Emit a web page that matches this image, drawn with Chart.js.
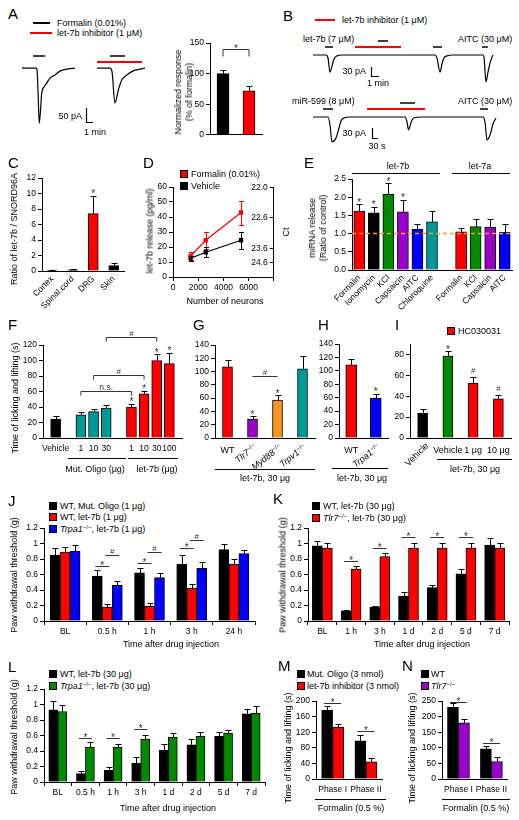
<!DOCTYPE html>
<html>
<head>
<meta charset="utf-8">
<title>let-7b figure</title>
<script src="https://cdn.jsdelivr.net/npm/chart.js@4.4.1/dist/chart.umd.min.js"></script>
<style>
  html, body { margin: 0; padding: 0; background: #fff; }
  #fig { position: relative; width: 519px; height: 820px; overflow: hidden; font-family: 'Liberation Sans', Arial, sans-serif; color: #000; }
  #fig canvas { position: absolute; }
  .tx { position: absolute; white-space: nowrap; font-size: 9px; line-height: 11px; }
  .lc { transform: translate(0, -50%); }
  .rc { transform: translate(-100%, -50%); }
  .cc { transform: translate(-50%, -50%); text-align: center; }
  .yt { transform: translate(-50%, -50%) rotate(-90deg); text-align: center; }
  .pl { position: absolute; font-size: 15px; line-height: 15px; }
  .sw { position: absolute; width: 8px; height: 8px; box-sizing: border-box; border: 1px solid #000; }
  .hl { position: absolute; height: 0; }
  .rot { position: absolute; width: 0; height: 0; }
  .rot span { position: absolute; right: 0; top: -5px; white-space: nowrap; font-size: 9px; line-height: 10px; transform-origin: 100% 50%; }
  sup { font-size: 6px; line-height: 0; vertical-align: 3px; }
</style>
</head>
<body>
<div id="fig"></div>
<script>
// ---------- data ----------

// A: formalin current traces (s, pA) and normalised response
const aTraceT1 = [0, 120, 129, 137, 148, 159, 169, 189, 212, 240, 283, 326, 383, 454];
const aTraceI1 = [0, 0, -7, -79, -198, -151, -90, -68, -54, -36, -25, -11, -4, 0];
const aTraceT2 = [0, 111, 129, 154, 183, 212, 255, 311, 369, 411];
const aTraceI2 = [0, 0, -14, -126, -79, -43, -25, -10, -4, 0];
const aGroups = ['Formalin', 'let-7b inhibitor'];
const aResponse = [100, 72];
const aResponseErr = [6, 7];

// B: let-7b / miR-599 and AITC currents (s, pA)
const bTraceT1 = [0, 97.5, 112.5, 127.5, 142.5, 157.5, 180, 225, 915, 930, 952.5, 967.5, 982.5, 1005, 1050, 1275, 1282.5, 1297.5, 1312.5, 1327.5, 1342.5, 1350];
const bTraceI1 = [0, 0, -10, -57, -37, -13, -3, 0, 0, -10, -57, -30, -10, -3, 0, 0, -7, -90, -57, -27, -7, 0];
const bTraceT2 = [0, 75, 85, 95, 115, 130, 140, 155, 185, 460, 470, 477.5, 485, 495, 510, 535, 850, 860, 870, 885, 900, 915];
const bTraceI2 = [0, 0, -24, -75, -63, -33, -12, -3, 0, 0, -15, -39, -27, -9, -1.5, 0, 0, -15, -69, -54, -21, -3];

// C: tissue distribution
const cTissues = ['Cortex', 'Spinal cord', 'DRG', 'Skin'];
const cRatio = [0.12, 0.15, 7.4, 0.7];
const cRatioErr = [0.05, 0.06, 2.3, 0.3];

// D: release vs number of neurons
const dNeurons = [1400, 2600, 5400];
const dFormalin = [14, 24.5, 43];
const dFormalinErr = [2.5, 5.5, 8];
const dVehicle = [12.5, 16.5, 24.5];
const dVehicleErr = [1.5, 3.3, 5.5];
const dCtPos = [60, 40, 19.5, 10];
const dCtLabels = ['22.0', '22.6', '23.6', '24.6'];

// E: miRNA release, ratio of control
const eLet7bStim = ['Formalin', 'Ionomycin', 'KCl', 'Capsaicin', 'AITC', 'Chloroquine'];
const eLet7b = [1.62, 1.57, 2.08, 1.6, 1.12, 1.32];
const eLet7bErr = [0.18, 0.16, 0.3, 0.32, 0.14, 0.3];
const eLet7aStim = ['Formalin', 'KCl', 'Capsaicin', 'AITC'];
const eLet7a = [1.05, 1.19, 1.18, 1.04];
const eLet7aErr = [0.1, 0.21, 0.22, 0.22];

// F: dose response, time of licking and lifting (s)
const fVehicle = [24];
const fVehicleErr = [4];
const fOligoDoses = ['1', '10', '30'];
const fOligo = [30, 34, 38.5];
const fOligoErr = [4, 3, 4];
const fLet7bDoses = ['1', '10', '30', '100'];
const fLet7b = [40, 57, 100, 96];
const fLet7bErr = [3.5, 4, 8, 14];

// G, H: knockouts, let-7b 30 ug
const gGenotypes = ['WT', 'Tlr7', 'Myd88', 'Trpv1'];
const gTime = [107, 28.5, 57, 104];
const gTimeErr = [10, 4, 7, 19];
const hGenotypes = ['WT', 'Trpa1'];
const hTime = [109, 59];
const hTimeErr = [8, 7];

// I: HC030031
const iGroups = ['Vehicle', 'Vehicle', '1 μg', '10 μg'];
const iTime = [23.7, 78.5, 52.5, 37.5];
const iTimeErr = [4, 4.5, 6, 4];

// J: paw withdrawal threshold (g)
const jTimes = ['BL', '0.5 h', '1 h', '3 h', '24 h'];
const jMutOligo = [0.85, 0.58, 0.62, 0.73, 0.92];
const jMutOligoErr = [0.09, 0.08, 0.06, 0.12, 0.07];
const jLet7b = [0.89, 0.18, 0.19, 0.42, 0.73];
const jLet7bErr = [0.07, 0.04, 0.04, 0.06, 0.07];
const jTrpa1 = [0.9, 0.46, 0.56, 0.68, 0.87];
const jTrpa1Err = [0.08, 0.05, 0.06, 0.08, 0.05];

// K
const kTimes = ['BL', '1 h', '3 h', '1 d', '2 d', '5 d', '7 d'];
const kWT = [0.97, 0.13, 0.18, 0.32, 0.43, 0.61, 0.98];
const kWTErr = [0.06, 0.01, 0.01, 0.05, 0.04, 0.06, 0.09];
const kTlr7 = [0.94, 0.67, 0.83, 0.94, 0.94, 0.94, 0.94];
const kTlr7Err = [0.06, 0.04, 0.05, 0.06, 0.06, 0.06, 0.06];

// L
const lTimes = ['BL', '0.5 h', '1 h', '3 h', '1 d', '2 d', '5 d', '7 d'];
const lWT = [0.93, 0.11, 0.15, 0.24, 0.41, 0.48, 0.59, 0.88];
const lWTErr = [0.11, 0.03, 0.05, 0.08, 0.08, 0.08, 0.06, 0.06];
const lTrpa1 = [0.91, 0.45, 0.45, 0.55, 0.58, 0.59, 0.63, 0.89];
const lTrpa1Err = [0.08, 0.06, 0.04, 0.06, 0.05, 0.06, 0.04, 0.09];

// M, N: formalin phases
const mPhases = ['Phase I', 'Phase II'];
const mMutOligo = [177, 98];
const mMutOligoErr = [9, 15];
const mInhibitor = [133, 44];
const mInhibitorErr = [8, 9];
const nWT = [230, 97];
const nWTErr = [15, 10];
const nTlr7 = [180, 56];
const nTlr7Err = [12, 14];

// ---------- styling ----------
const FONT = "'Liberation Sans', Arial, sans-serif";
const RED = '#ff0000', BLACK = '#000000', GREEN = '#008a00', BLUE = '#0000ff';
const PURPLE = '#9900cc', TEAL = '#009999', ORANGE = '#f7941d';
const stimColor = { Formalin: RED, Ionomycin: BLACK, KCl: GREEN, Capsaicin: PURPLE, AITC: BLUE, Chloroquine: TEAL };
const genoColor = { WT: RED, Tlr7: PURPLE, Myd88: ORANGE, Trpv1: TEAL, Trpa1: BLUE };
const oneDecimal = v => String(Math.round(v * 10) / 10);

Chart.defaults.font.family = FONT;
Chart.defaults.font.size = 8.5;
Chart.defaults.color = '#000';

const fig = document.getElementById('fig');

function text(html, x, y, cls) {
  const d = document.createElement('div');
  d.className = 'tx ' + (cls || 'lc');
  d.innerHTML = html;
  d.style.left = x + 'px';
  d.style.top = y + 'px';
  fig.appendChild(d);
  return d;
}
function letter(ch, x, y) {
  const d = document.createElement('div');
  d.className = 'pl';
  d.textContent = ch;
  d.style.left = x + 'px';
  d.style.top = y + 'px';
  fig.appendChild(d);
}
function swatch(x, y, color) {
  const d = document.createElement('div');
  d.className = 'sw';
  d.style.left = x + 'px';
  d.style.top = y + 'px';
  d.style.background = color;
  fig.appendChild(d);
}
function rule(x1, x2, y, color, w) {
  w = w || 1;
  const d = document.createElement('div');
  d.className = 'hl';
  d.style.left = x1 + 'px';
  d.style.width = (x2 - x1) + 'px';
  d.style.top = (y - w / 2) + 'px';
  d.style.borderTop = w + 'px solid ' + (color || '#000');
  fig.appendChild(d);
}
function rotLabel(html, x, y, deg) {
  const d = document.createElement('div');
  d.className = 'rot';
  d.style.left = x + 'px';
  d.style.top = y + 'px';
  d.innerHTML = '<span style="transform:rotate(' + (-deg) + 'deg)">' + html + '</span>';
  fig.appendChild(d);
}
const ko = g => '<i>' + g + '</i><sup>−/−</sup>';

function mkCanvas(area, pad) {
  const c = document.createElement('canvas');
  const w = area.r - area.l + pad.l + pad.r;
  const h = area.b - area.t + pad.t + pad.b;
  c.width = w;
  c.height = h;
  c.style.left = (area.l - pad.l) + 'px';
  c.style.top = (area.t - pad.t) + 'px';
  c.style.width = w + 'px';
  c.style.height = h + 'px';
  fig.appendChild(c);
  return c;
}

// ---------- plugins ----------
const errorBars = {
  id: 'errorBars',
  afterDatasetsDraw(chart) {
    const ctx = chart.ctx;
    chart.data.datasets.forEach((ds, di) => {
      if (!ds.err) return;
      const meta = chart.getDatasetMeta(di);
      const ys = chart.scales[meta.yAxisID];
      ctx.save();
      ctx.strokeStyle = ds.errColor || '#000';
      ctx.lineWidth = 1;
      meta.data.forEach((el, i) => {
        const raw = ds.data[i];
        const v = raw !== null && typeof raw === 'object' ? raw.y : raw;
        const e = ds.err[i];
        if (v == null || e == null) return;
        const x = Math.round(el.x) + 0.5;
        const cap = ds.cap || 3;
        const ends = ds.errBoth ? [v + e, v - e] : [v + e];
        ctx.beginPath();
        ends.forEach(w => {
          const y = Math.round(ys.getPixelForValue(w)) + 0.5;
          ctx.moveTo(x, el.y);
          ctx.lineTo(x, y);
          ctx.moveTo(x - cap, y);
          ctx.lineTo(x + cap, y);
        });
        ctx.stroke();
      });
      ctx.restore();
    });
  }
};

function sym(ctx, s, x, y, size) {
  ctx.font = size + 'px ' + FONT;
  ctx.fillStyle = '#333';
  ctx.textAlign = 'center';
  ctx.textBaseline = 'alphabetic';
  ctx.fillText(s, x, s === '*' ? y + size * 0.42 : y);
}
function topOf(chart, ref) {
  const ds = chart.data.datasets[ref[0]];
  const e = ds.err ? (ds.err[ref[1]] || 0) : 0;
  return chart.scales.y.getPixelForValue(ds.data[ref[1]] + e);
}

const marks = {
  id: 'marks',
  afterDatasetsDraw(chart, args, opts) {
    const ctx = chart.ctx, xs = chart.scales.x, ys = chart.scales.y;
    ctx.save();
    ctx.lineWidth = 1;
    for (const m of (opts.items || [])) {
      if (m.star) {
        const el = chart.getDatasetMeta(m.star[0]).data[m.star[1]];
        sym(ctx, m.text || '*', el.x, topOf(chart, m.star) - (m.gap ?? 2), m.size || 10);
      } else if (m.link) {
        const a = chart.getDatasetMeta(m.link[0][0]).data[m.link[0][1]];
        const b = chart.getDatasetMeta(m.link[1][0]).data[m.link[1][1]];
        const x1 = a.x - (m.ext || 0), x2 = b.x + (m.ext || 0);
        const y = Math.round(ys.getPixelForValue(m.y)) + 0.5;
        ctx.strokeStyle = '#333';
        ctx.beginPath();
        ctx.moveTo(x1, y + (m.drop || 0));
        ctx.lineTo(x1, y);
        ctx.lineTo(x2, y);
        ctx.lineTo(x2, y + (m.drop || 0));
        ctx.stroke();
        sym(ctx, m.text, (x1 + x2) / 2, y - 2, m.size || 10);
      } else if (m.hline !== undefined) {
        const y = ys.getPixelForValue(m.hline);
        ctx.strokeStyle = m.color;
        ctx.lineWidth = m.width || 1.5;
        ctx.setLineDash(m.dash || []);
        ctx.beginPath();
        ctx.moveTo(chart.chartArea.left, y);
        ctx.lineTo(chart.chartArea.right, y);
        ctx.stroke();
        ctx.setLineDash([]);
        ctx.lineWidth = 1;
      } else if (m.stim) {
        const y = Math.round(ys.getPixelForValue(0) - m.lift);
        ctx.strokeStyle = m.color;
        ctx.lineWidth = m.width || 1.5;
        ctx.beginPath();
        ctx.moveTo(xs.getPixelForValue(m.stim[0]), y);
        ctx.lineTo(xs.getPixelForValue(m.stim[1]), y);
        ctx.stroke();
        ctx.lineWidth = 1;
      } else if (m.scaleBar) {
        const [t, i, dt, di] = m.scaleBar;
        const x0 = Math.round(xs.getPixelForValue(t)) + 0.5;
        const y0 = Math.round(ys.getPixelForValue(i)) + 0.5;
        ctx.strokeStyle = '#000';
        ctx.lineWidth = 1.2;
        ctx.beginPath();
        ctx.moveTo(x0, ys.getPixelForValue(i + di));
        ctx.lineTo(x0, y0);
        ctx.lineTo(xs.getPixelForValue(t + dt), y0);
        ctx.stroke();
        ctx.lineWidth = 1;
      } else if (m.innerAxis) {
        const s = chart.scales[m.innerAxis];
        ctx.strokeStyle = '#000';
        ctx.fillStyle = '#000';
        ctx.font = '8.5px ' + FONT;
        ctx.textAlign = 'right';
        ctx.textBaseline = 'middle';
        ctx.beginPath();
        s.ticks.forEach(tk => {
          const y = Math.round(s.getPixelForValue(tk.value)) + 0.5;
          ctx.moveTo(s.left, y);
          ctx.lineTo(s.left - 4, y);
          ctx.fillText(m.labels[m.at.indexOf(tk.value)], s.left - 6, y);
        });
        ctx.stroke();
      }
    }
    ctx.restore();
  }
};

// ---------- chart builders ----------
function traceChart(area, pad, xr, yr, traces, items) {
  return new Chart(mkCanvas(area, pad), {
    type: 'line',
    data: {
      datasets: traces.map(tr => ({
        data: tr[0].map((t, k) => ({ x: t, y: tr[1][k] })),
        borderColor: '#000', borderWidth: 1.2, pointRadius: 0,
        cubicInterpolationMode: 'monotone', clip: false
      }))
    },
    options: {
      responsive: false, animation: false, devicePixelRatio: 1,
      layout: { padding: { left: pad.l, right: pad.r, top: pad.t, bottom: pad.b } },
      plugins: { legend: { display: false }, tooltip: { enabled: false }, marks: { items: items } },
      scales: {
        x: { type: 'linear', display: false, min: xr[0], max: xr[1] },
        y: { type: 'linear', display: false, min: yr[0], max: yr[1] }
      }
    },
    plugins: [marks]
  });
}

function barChart(area, pad, cfg) {
  return new Chart(mkCanvas(area, pad), {
    type: 'bar',
    data: { labels: cfg.labels, datasets: cfg.datasets },
    options: {
      responsive: false, animation: false, devicePixelRatio: 1,
      layout: { padding: { top: pad.t, right: pad.r, left: 0, bottom: 0 } },
      plugins: { legend: { display: false }, tooltip: { enabled: false }, marks: { items: cfg.marks || [] } },
      scales: {
        x: {
          offset: cfg.offset !== false,
          grid: { drawOnChartArea: false, drawTicks: !!cfg.xTicks, tickLength: 4, color: '#000', offset: true },
          border: { color: '#000' },
          ticks: {
            display: cfg.xLabels !== false, autoSkip: false,
            maxRotation: cfg.rot || 0, minRotation: cfg.rot || 0,
            padding: cfg.xPad ?? 2, color: '#000', font: { size: 8.5 }
          },
          afterFit: s => { s.height = pad.b; }
        },
        y: {
          min: cfg.min || 0, max: cfg.max,
          grid: { drawOnChartArea: false, tickLength: 4, color: '#000' },
          border: { color: '#000' },
          ticks: { stepSize: cfg.step, padding: 2, color: '#000', font: { size: 8.5 }, callback: cfg.yFmt || oneDecimal },
          afterFit: s => { s.width = pad.l; }
        }
      }
    },
    plugins: [errorBars, marks]
  });
}

function bars(values, errs, colors, thickness) {
  return { data: values, err: errs, backgroundColor: colors, borderColor: '#000', borderWidth: 1, barThickness: thickness };
}
function pageX(chart, area, pad, i) {
  return area.l - pad.l + chart.scales.x.getPixelForValue(i);
}

// ---------- A ----------
letter('A', 8, 6);
rule(33, 50, 23, BLACK, 2);
text('Formalin (0.01%)', 57, 23);
rule(30, 52, 33, RED, 2);
text('let-7b inhibitor (1 μM)', 57, 33);
traceChart({ l: 22, t: 50, r: 76, b: 125 }, { l: 2, t: 2, r: 2, b: 2 }, [0, 463], [-205, 65],
  [[aTraceT1, aTraceI1]],
  [{ stim: [94, 197], lift: 12, color: BLACK }]);
traceChart({ l: 97, t: 50, r: 146, b: 125 }, { l: 16, t: 2, r: 2, b: 2 }, [0, 420], [-205, 65],
  [[aTraceT2, aTraceI2]],
  [{ stim: [111, 240], lift: 12, color: BLACK },
   { stim: [0, 386], lift: 6, color: RED, width: 2 },
   { scaleBar: [-94, -194, 60, 50] }]);
text('50 pA', 82, 116, 'rc');
text('1 min', 95, 132, 'cc');
barChart({ l: 210, t: 43, r: 262, b: 136 }, { l: 30, t: 10, r: 2, b: 6 }, {
  labels: aGroups, max: 150, step: 50, xLabels: false,
  datasets: [bars(aResponse, aResponseErr, [BLACK, RED], 12)],
  marks: [{ link: [[0, 0], [0, 1]], y: 140, drop: 7, text: '*' }]
});
text('Normalized response<br>(% of formalin)', 184, 92, 'yt');

// ---------- B ----------
letter('B', 283, 8);
rule(315, 335, 20, RED, 2);
text('let-7b inhibitor (1 μM)', 342, 20);
text('let-7b (7 μM)', 303, 39);
text('AITC (30 μM)', 458, 39);
traceChart({ l: 313, t: 38, r: 513, b: 85 }, { l: 2, t: 2, r: 2, b: 2 }, [0, 1500], [-100, 56.7],
  [[bTraceT1, bTraceI1]],
  [{ stim: [90, 150], lift: 8, color: BLACK },
   { stim: [487, 562], lift: 14, color: BLACK },
   { stim: [315, 660], lift: 8, color: RED, width: 2 },
   { stim: [900, 967], lift: 8, color: BLACK },
   { stim: [1267, 1312], lift: 8, color: BLACK },
   { scaleBar: [435, -70, 60, 30] }]);
text('30 pA', 366, 71, 'rc');
text('1 min', 378, 83, 'cc');
text('miR-599 (8 μM)', 292, 101);
text('AITC (30 μM)', 458, 101);
traceChart({ l: 313, t: 98, r: 513, b: 148 }, { l: 2, t: 2, r: 2, b: 2 }, [0, 1000], [-93, 57],
  [[bTraceT2, bTraceI2]],
  [{ stim: [50, 100], lift: 8, color: BLACK },
   { stim: [435, 510], lift: 14, color: BLACK },
   { stim: [270, 560], lift: 8, color: RED, width: 2 },
   { stim: [835, 875], lift: 8, color: BLACK },
   { scaleBar: [295, -63, 30, 30] }]);
text('30 pA', 366, 133, 'rc');
text('30 s', 377, 146, 'cc');

// ---------- C ----------
letter('C', 8, 155);
barChart({ l: 42, t: 178, r: 124, b: 271 }, { l: 22, t: 8, r: 4, b: 45 }, {
  labels: cTissues, max: 12, step: 2, rot: 45, xPad: 3,
  datasets: [bars(cRatio, cRatioErr, cTissues.map(t => t === 'DRG' ? RED : BLACK), 10)],
  marks: [{ star: [0, 2], gap: 3 }]
});
text('Ratio of let-7b / SNORD96A', 14, 229, 'yt');

// ---------- D ----------
letter('D', 143, 155);
swatch(180, 170, RED);
text('Formalin (0.01%)', 191, 174);
swatch(180, 182, BLACK);
text('Vehicle', 191, 186);
(function () {
  const area = { l: 173, t: 187, r: 276, b: 277 }, pad = { l: 22, t: 8, r: 3, b: 16 };
  new Chart(mkCanvas(area, pad), {
    type: 'line',
    data: {
      datasets: [
        { data: dNeurons.map((n, k) => ({ x: n, y: dFormalin[k] })), err: dFormalinErr, errBoth: true, errColor: RED, cap: 2.5,
          borderColor: RED, backgroundColor: RED, borderWidth: 1.2, pointStyle: 'rect', pointRadius: 2.2 },
        { data: dNeurons.map((n, k) => ({ x: n, y: dVehicle[k] })), err: dVehicleErr, errBoth: true, errColor: BLACK, cap: 2.5,
          borderColor: BLACK, backgroundColor: BLACK, borderWidth: 1.2, pointStyle: 'rect', pointRadius: 2.2 }
      ]
    },
    options: {
      responsive: false, animation: false, devicePixelRatio: 1,
      layout: { padding: { top: pad.t, right: pad.r, left: 0, bottom: 0 } },
      plugins: { legend: { display: false }, tooltip: { enabled: false },
        marks: { items: [{ innerAxis: 'y2', at: dCtPos, labels: dCtLabels }] } },
      scales: {
        x: {
          type: 'linear', min: 0, max: 8000,
          grid: { drawOnChartArea: false, tickLength: 4, color: '#000' },
          border: { color: '#000' },
          ticks: { stepSize: 2000, maxRotation: 0, padding: 2, color: '#000', font: { size: 8.5 },
                   callback: v => v < 8000 ? String(v) : '' },
          afterFit: s => { s.height = pad.b; }
        },
        y: {
          min: 0, max: 60,
          grid: { drawOnChartArea: false, tickLength: 4, color: '#000' },
          border: { color: '#000' },
          ticks: { stepSize: 10, padding: 2, color: '#000', font: { size: 8.5 } },
          afterFit: s => { s.width = pad.l; }
        },
        y2: {
          position: 'right', min: 0, max: 60,
          afterBuildTicks: s => { s.ticks = dCtPos.map(v => ({ value: v })); },
          grid: { drawOnChartArea: false, drawTicks: false },
          border: { color: '#000' },
          ticks: { display: false },
          afterFit: s => { s.width = 0; }
        }
      }
    },
    plugins: [errorBars, marks]
  });
})();
text('let-7b release (pg/ml)', 150, 231, 'yt');
text('Number of neurons', 225, 301, 'cc');
text('Ct', 286, 232, 'yt');

// ---------- E ----------
letter('E', 304, 155);
rule(352, 440, 173);
text('let-7b', 398, 166, 'cc');
rule(452, 510, 173);
text('let-7a', 480, 166, 'cc');
(function () {
  const labels = [...eLet7bStim, '', ...eLet7aStim];
  const vals = [...eLet7b, null, ...eLet7a];
  const errs = [...eLet7bErr, null, ...eLet7aErr];
  barChart({ l: 352, t: 179, r: 512, b: 270 }, { l: 24, t: 8, r: 4, b: 62 }, {
    labels: labels, max: 2.5, step: 0.5, rot: 45, xPad: 3, yFmt: v => v.toFixed(1),
    datasets: [bars(vals, errs, labels.map(s => stimColor[s] || BLACK), 11)],
    marks: [{ hline: 1, color: '#ff9933', dash: [4, 3], width: 1.5 },
            { star: [0, 0], gap: 3 }, { star: [0, 1], gap: 3 }, { star: [0, 2], gap: 3 }, { star: [0, 3], gap: 3 }]
  });
})();
text('miRNA release<br>(Ratio of control)', 318, 228, 'yt');

// ---------- F ----------
letter('F', 8, 317);
(function () {
  const labels = ['', 'Vehicle', '', ...fOligoDoses, '', ...fLet7bDoses, ''];
  const vals = [null, ...fVehicle, null, ...fOligo, null, ...fLet7b, null];
  const errs = [null, ...fVehicleErr, null, ...fOligoErr, null, ...fLet7bErr, null];
  const cols = [BLACK, BLACK, BLACK, ...fOligo.map(() => TEAL), BLACK, ...fLet7b.map(() => RED), BLACK];
  barChart({ l: 43, t: 345, r: 186, b: 438 }, { l: 24, t: 22, r: 2, b: 16 }, {
    labels: labels, max: 120, step: 20, offset: false, xPad: 6,
    datasets: [bars(vals, errs, cols, 10)],
    marks: [{ star: [0, 7], gap: 3 }, { star: [0, 8], gap: 3 }, { star: [0, 9], gap: 3 }, { star: [0, 10], gap: 3 },
            { link: [[0, 3], [0, 7]], y: 61, drop: 4, text: 'n.s.', size: 8.5 },
            { link: [[0, 4], [0, 8]], y: 81, drop: 4, text: '#', size: 8 },
            { link: [[0, 5], [0, 9]], y: 130, drop: 4, text: '#', size: 8 }]
  });
})();
rule(68, 126, 458);
text('Mut. Oligo (μg)', 95, 469, 'cc');
rule(128, 178, 458);
text('let-7b (μg)', 157, 469, 'cc');
text('Time of licking and lifting (s)', 15, 398, 'yt');

// ---------- G ----------
letter('G', 193, 317);
(function () {
  const area = { l: 215, t: 345, r: 315, b: 438 }, pad = { l: 24, t: 8, r: 2, b: 8 };
  const ch = barChart(area, pad, {
    labels: gGenotypes, max: 140, step: 20, xLabels: false,
    datasets: [bars(gTime, gTimeErr, gGenotypes.map(g => genoColor[g]), 10)],
    marks: [{ star: [0, 1], gap: 3 }, { star: [0, 2], gap: 3 },
            { link: [[0, 1], [0, 2]], y: 93, text: '#', size: 8 }]
  });
  gGenotypes.forEach((g, i) => {
    const x = pageX(ch, area, pad, i);
    if (g === 'WT') text('WT', x, area.b + 12, 'cc');
    else rotLabel(ko(g), x + 3, area.b + 8, 38);
  });
})();
rule(215, 315, 469);
text('let-7b, 30 μg', 265, 478, 'cc');

// ---------- H ----------
letter('H', 318, 317);
(function () {
  const area = { l: 339, t: 344, r: 388, b: 438 }, pad = { l: 24, t: 8, r: 2, b: 8 };
  const ch = barChart(area, pad, {
    labels: hGenotypes, max: 140, step: 20, xLabels: false,
    datasets: [bars(hTime, hTimeErr, hGenotypes.map(g => genoColor[g]), 11)],
    marks: [{ star: [0, 1], gap: 3 }]
  });
  hGenotypes.forEach((g, i) => {
    const x = pageX(ch, area, pad, i);
    if (g === 'WT') text('WT', x, area.b + 12, 'cc');
    else rotLabel(ko(g), x + 3, area.b + 8, 38);
  });
})();
rule(332, 388, 468);
text('let-7b, 30 μg', 362, 478, 'cc');

// ---------- I ----------
letter('I', 395, 317);
swatch(447, 327, RED);
text('HC030031', 458, 331);
(function () {
  const area = { l: 410, t: 344, r: 511, b: 438 }, pad = { l: 20, t: 8, r: 2, b: 8 };
  const ch = barChart(area, pad, {
    labels: iGroups, max: 90, step: 10, xLabels: false,
    datasets: [bars(iTime, iTimeErr, [BLACK, GREEN, RED, RED], 10)],
    marks: [{ star: [0, 1], gap: 3 }, { star: [0, 2], text: '#', gap: 4, size: 8 }, { star: [0, 3], text: '#', gap: 4, size: 8 }]
  });
  iGroups.forEach((g, i) => {
    const x = pageX(ch, area, pad, i);
    if (i === 0) rotLabel(g, x + 4, area.b + 6, 45);
    else text(g, x, area.b + 12, 'cc');
  });
})();
rule(437, 512, 459);
text('let-7b, 30 μg', 475, 469, 'cc');

// ---------- J ----------
letter('J', 8, 493);
swatch(49, 502, BLACK);
text('WT, Mut. Oligo (1 μg)', 60, 506);
swatch(49, 513, RED);
text('WT, let-7b (1 μg)', 60, 517);
swatch(49, 525, BLUE);
text(ko('Trpa1') + ', let-7b (1 μg)', 60, 529);
barChart({ l: 44, t: 528, r: 255, b: 621 }, { l: 24, t: 8, r: 2, b: 16 }, {
  labels: jTimes, max: 1.2, step: 0.2, xTicks: true, xPad: 2,
  datasets: [bars(jMutOligo, jMutOligoErr, BLACK, 10), bars(jLet7b, jLet7bErr, RED, 10), bars(jTrpa1, jTrpa1Err, BLUE, 10)],
  marks: [{ link: [[0, 1], [1, 1]], y: 0.71, ext: 2, text: '*' }, { link: [[1, 1], [2, 1]], y: 0.85, ext: 2, text: '#', size: 8 },
          { link: [[0, 2], [1, 2]], y: 0.75, ext: 2, text: '*' }, { link: [[1, 2], [2, 2]], y: 0.89, ext: 2, text: '#', size: 8 },
          { link: [[0, 3], [1, 3]], y: 0.94, ext: 2, text: '*' }, { link: [[1, 3], [2, 3]], y: 1.05, ext: 2, text: '#', size: 8 }]
});
text('Time after drug injection', 171, 644, 'cc');
text('Paw withdrawal threshold (g)', 14, 575, 'yt');

// ---------- K ----------
letter('K', 273, 491);
swatch(312, 502, BLACK);
text('WT, let-7b (30 μg)', 323, 506);
swatch(312, 514, RED);
text(ko('Tlr7') + ', let-7b (30 μg)', 323, 518);
barChart({ l: 308, t: 528, r: 509, b: 621 }, { l: 24, t: 12, r: 4, b: 16 }, {
  labels: kTimes, max: 1.2, step: 0.2, xTicks: true, xPad: 2,
  datasets: [bars(kWT, kWTErr, BLACK, 10), bars(kTlr7, kTlr7Err, RED, 10)],
  marks: [{ link: [[0, 1], [1, 1]], y: 0.77, ext: 2, text: '*' },
          { link: [[0, 2], [1, 2]], y: 0.94, ext: 2, text: '*' },
          { link: [[0, 3], [1, 3]], y: 1.08, ext: 2, text: '*' },
          { link: [[0, 4], [1, 4]], y: 1.08, ext: 2, text: '*' },
          { link: [[0, 5], [1, 5]], y: 1.08, ext: 2, text: '*' }]
});
text('Time after drug injection', 422, 644, 'cc');
text('Paw withdrawal threshold (g)', 283, 575, 'yt');

// ---------- L ----------
letter('L', 8, 659);
swatch(49, 670, BLACK);
text('WT, let-7b (30 μg)', 60, 674);
swatch(49, 682, GREEN);
text(ko('Trpa1') + ', let-7b (30 μg)', 60, 686);
barChart({ l: 44, t: 689, r: 265, b: 782 }, { l: 24, t: 8, r: 2, b: 16 }, {
  labels: lTimes, max: 1.2, step: 0.2, xTicks: true, xPad: 2,
  datasets: [bars(lWT, lWTErr, BLACK, 9), bars(lTrpa1, lTrpa1Err, GREEN, 9)],
  marks: [{ link: [[0, 1], [1, 1]], y: 0.57, ext: 2, text: '*' },
          { link: [[0, 2], [1, 2]], y: 0.57, ext: 2, text: '*' },
          { link: [[0, 3], [1, 3]], y: 0.68, ext: 2, text: '*' }]
});
text('Time after drug injection', 168, 808, 'cc');
text('Paw withdrawal threshold (g)', 14, 737, 'yt');

// ---------- M ----------
letter('M', 278, 658);
swatch(297, 670, BLACK);
text('Mut. Oligo (3 nmol)', 307, 674);
swatch(297, 682, RED);
text('let-7b inhibitor (3 nmol)', 307, 686);
barChart({ l: 316, t: 701, r: 386, b: 779 }, { l: 22, t: 8, r: 2, b: 16 }, {
  labels: mPhases, max: 200, step: 40, xPad: 6,
  datasets: [bars(mMutOligo, mMutOligoErr, BLACK, 11), bars(mInhibitor, mInhibitorErr, RED, 11)],
  marks: [{ link: [[0, 0], [1, 0]], y: 195, ext: 3, text: '*' },
          { link: [[0, 1], [1, 1]], y: 123, ext: 3, text: '*' }]
});
rule(315, 386, 799);
text('Formalin (0.5 %)', 351, 808, 'cc');
text('Time of licking and lifting (s)', 288, 748, 'yt');

// ---------- N ----------
letter('N', 402, 658);
swatch(421, 670, BLACK);
text('WT', 431, 674);
swatch(421, 682, PURPLE);
text(ko('Tlr7'), 431, 686);
barChart({ l: 442, t: 701, r: 510, b: 779 }, { l: 22, t: 8, r: 4, b: 16 }, {
  labels: mPhases, max: 250, step: 50, xPad: 6,
  datasets: [bars(nWT, nWTErr, BLACK, 11), bars(nTlr7, nTlr7Err, PURPLE, 11)],
  marks: [{ link: [[0, 0], [1, 0]], y: 247, ext: 3, text: '*' },
          { link: [[0, 1], [1, 1]], y: 115, ext: 3, text: '*' }]
});
rule(442, 510, 799);
text('Formalin (0.5 %)', 476, 808, 'cc');
text('Time of licking and lifting (s)', 412, 748, 'yt');
</script>
</body>
</html>
